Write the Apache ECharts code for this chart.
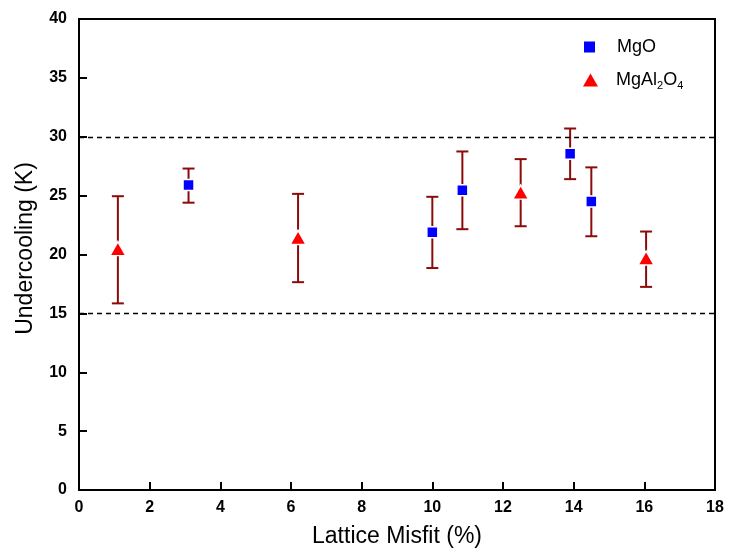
<!DOCTYPE html>
<html>
<head>
<meta charset="utf-8">
<script src="https://cdn.jsdelivr.net/npm/echarts@6/dist/echarts.min.js"></script>
<style>html,body{margin:0;padding:0;background:#fff}#c{width:729px;height:559px}</style>
</head>
<body>
<div id="c"></div>
<script>
const xTicks = [0, 2, 4, 6, 8, 10, 12, 14, 16, 18];
const yTicks = [0, 5, 10, 15, 20, 25, 30, 35, 40];
const mgoX = [3.1, 10.0, 10.85, 13.9, 14.5];
const mgoY = [25.9, 21.9, 25.45, 28.55, 24.5];
const mgoLow = [24.4, 18.85, 22.15, 26.4, 21.55];
const mgoHigh = [27.3, 24.9, 28.75, 30.7, 27.4];
const spX = [1.1, 6.2, 12.5, 16.05];
const spY = [20.5, 21.45, 25.3, 19.7];
const spLow = [15.85, 17.65, 22.4, 17.25];
const spHigh = [24.95, 25.15, 28.1, 21.95];
const refLines = [30, 15];

const chart = echarts.init(document.getElementById('c'));
const FONT = '"Liberation Sans", Arial, sans-serif';
const errColor = '#8b0a0a';

function errData(xs, lo, hi) { return xs.map((x, i) => [x, lo[i], hi[i]]); }
function renderErr(params, api) {
  const x = api.value(0), lo = api.value(1), hi = api.value(2);
  const pLo = api.coord([x, lo]);
  const pHi = api.coord([x, hi]);
  const w = 6;
  const style = { stroke: errColor, lineWidth: 2 };
  return {
    type: 'group',
    children: [
      { type: 'line', shape: { x1: pLo[0], y1: pLo[1], x2: pHi[0], y2: pHi[1] }, style },
      { type: 'line', shape: { x1: pLo[0] - w, y1: pLo[1], x2: pLo[0] + w, y2: pLo[1] }, style },
      { type: 'line', shape: { x1: pHi[0] - w, y1: pHi[1], x2: pHi[0] + w, y2: pHi[1] }, style }
    ]
  };
}

const legendText = {
  fontFamily: FONT, fontSize: 18, color: '#000',
  rich: { sub: { fontFamily: FONT, fontSize: 11, color: '#000', verticalAlign: 'bottom', padding: [11, 0, 0, 0] } }
};

chart.setOption({
  animation: false,
  backgroundColor: '#fff',
  grid: { left: 79, right: 14, top: 19, bottom: 69, show: true, borderColor: '#000', borderWidth: 2 },
  legend: [
    {
      orient: 'vertical', left: 579, top: 33,
      icon: 'rect', itemWidth: 11, itemHeight: 11,
      data: [{ name: 'MgO', itemStyle: { opacity: 1, borderWidth: 0 } }],
      textStyle: Object.assign({}, legendText, { padding: [0, 0, 0, 17] })
    },
    {
      orient: 'vertical', left: 578, top: 66,
      icon: 'triangle', itemWidth: 15, itemHeight: 13,
      data: [{ name: 'MgAl2O4', itemStyle: { opacity: 1, borderWidth: 0 } }],
      textStyle: Object.assign({}, legendText, { padding: [0, 0, 0, 13] }),
      formatter: function () { return 'MgAl{sub|2}O{sub|4}'; }
    }
  ],
  xAxis: {
    type: 'value', min: 0, max: 18, interval: 2,
    name: 'Lattice Misfit (%)', nameLocation: 'middle', nameGap: 35,
    nameTextStyle: { fontFamily: FONT, fontSize: 23, color: '#000' },
    axisLine: { show: true, lineStyle: { color: '#000', width: 2 } },
    axisTick: { show: true, inside: true, length: 8, lineStyle: { color: '#000', width: 2 } },
    axisLabel: { fontFamily: FONT, fontSize: 16, fontWeight: 'bold', color: '#000', margin: 10 },
    splitLine: { show: false }
  },
  yAxis: {
    type: 'value', min: 0, max: 40, interval: 5,
    name: 'Undercooling (K)', nameLocation: 'middle', nameGap: 42,
    nameTextStyle: { fontFamily: FONT, fontSize: 23, color: '#000', padding: [0, 0, 0, 12] },
    axisLine: { show: true, lineStyle: { color: '#000', width: 2 } },
    axisTick: { show: true, inside: true, length: 8, lineStyle: { color: '#000', width: 2 } },
    axisLabel: { fontFamily: FONT, fontSize: 16, fontWeight: 'bold', color: '#000', margin: 12 },
    splitLine: { show: false }
  },
  series: [
    {
      type: 'custom', name: 'errMgO', renderItem: renderErr, data: errData(mgoX, mgoLow, mgoHigh),
      encode: { x: 0, y: [1, 2] }, z: 1, silent: true
    },
    {
      type: 'custom', name: 'errSp', renderItem: renderErr, data: errData(spX, spLow, spHigh),
      encode: { x: 0, y: [1, 2] }, z: 1, silent: true
    },
    {
      type: 'scatter', name: 'MgO', symbol: 'rect', symbolSize: 11,
      itemStyle: { color: '#0000ff', opacity: 1, borderColor: '#fff', borderWidth: 1.5 },
      data: mgoX.map((x, i) => [x, mgoY[i]]), z: 3,
      markLine: {
        silent: true, symbol: 'none', label: { show: false },
        lineStyle: { color: '#000', type: [5, 4], width: 1.3, opacity: 1 },
        data: refLines.map(v => ({ yAxis: v }))
      }
    },
    {
      type: 'scatter', name: 'MgAl2O4', symbol: 'triangle', symbolSize: [16, 14],
      itemStyle: { color: '#ff0000', opacity: 1, borderColor: '#fff', borderWidth: 1.5 },
      data: spX.map((x, i) => [x, spY[i]]), z: 3
    }
  ]
});
</script>
</body>
</html>
